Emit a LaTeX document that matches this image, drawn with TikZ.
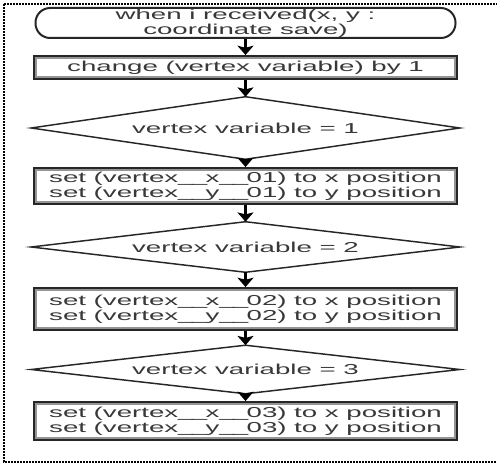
\documentclass[tikz,border=0pt]{standalone}
\usepackage{fontspec}
\usetikzlibrary{arrows.meta}
% wide sans face for the flowchart labels
\newfontfamily\widesans[FakeStretch=1.92]{Liberation Sans}
% slightly narrower underscore for the variable names
\newcommand\us{\_\kern-1.3pt}
\tikzset{
  label font/.style={font=\widesans\fontsize{10.8}{8.8}\selectfont, text=black!78, align=center, inner sep=0pt},
  startbox/.style={label font, draw=black!85, line width=1.5pt, rounded corners=11pt,
    minimum width=315pt, minimum height=22.5pt},
  actbox/.style={label font, draw=black!85, line width=1.4pt, minimum width=317.25pt,
    path picture={\draw[black!42, line width=4pt]
      (path picture bounding box.south west) rectangle (path picture bounding box.north east);}},
  testbox/.style={label font, minimum width=321pt},
  testline/.style={draw=black!85, line width=1.1pt, line join=miter},
  flow/.style={draw=black, line width=1.8pt, -{Stealth[length=7pt, width=12pt, inset=1.5pt]}},
  frame/.style={draw=black, line width=1.1pt, dash pattern=on 1.5pt off 0.75pt},
}
\begin{document}
\begin{tikzpicture}[x=0.75pt, y=-0.75pt]
  \useasboundingbox (0,0) rectangle (497,467);
  \begin{scope}
    \clip (0,0) rectangle (497,467);
    \draw[frame] (4,4) rectangle (510,462);
  \end{scope}

  % blocks, top to bottom
  \node[startbox] (start) at (245.5,23) {when i received(x, y :\\coordinate save)};
  \node[actbox, minimum height=17.25pt] (chg) at (245.5,67.5) {change (vertex variable) by 1};
  \node[testbox, minimum height=46.5pt] (d1) at (245.5,128) {vertex variable = 1};
  \node[actbox, minimum height=27pt] (s1) at (245.5,186) {set (vertex\us\us x\us\us 01) to x position\\set (vertex\us\us y\us\us 01) to y position};
  \node[testbox, minimum height=37.5pt] (d2) at (245.5,247) {vertex variable = 2};
  \node[actbox, minimum height=31.5pt] (s2) at (245.5,309) {set (vertex\us\us x\us\us 02) to x position\\set (vertex\us\us y\us\us 02) to y position};
  \node[testbox, minimum height=36pt] (d3) at (245.5,369.5) {vertex variable = 3};
  \node[actbox, minimum height=28.5pt] (s3) at (245.5,421) {set (vertex\us\us x\us\us 03) to x position\\set (vertex\us\us y\us\us 03) to y position};

  % decision outlines
  \foreach \d in {d1,d2,d3}
    \draw[testline] (\d.north) -- (\d.east) -- (\d.south) -- (\d.west) -- cycle;

  % connectors
  \draw[flow] (start.south) -- (chg.north);
  \draw[flow] (chg.south) -- (d1.north);
  \draw[flow] (d1.south) -- (s1.north);
  \draw[flow] (s1.south) -- (d2.north);
  \draw[flow] (d2.south) -- (s2.north);
  \draw[flow] (s2.south) -- (d3.north);
  \draw[flow] (d3.south) -- (s3.north);
\end{tikzpicture}
\end{document}
